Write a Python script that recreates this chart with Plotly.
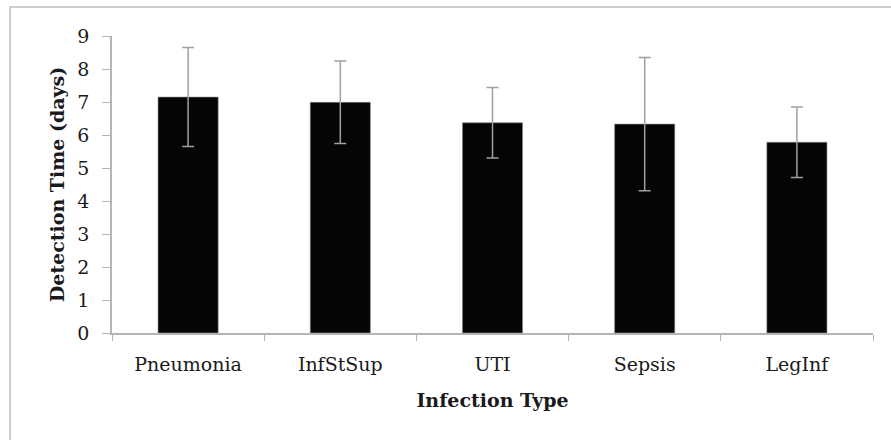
import plotly.graph_objects as go

categories = ["Pneumonia", "InfStSup", "UTI", "Sepsis", "LegInf"]
detection_days = [7.15, 6.99, 6.37, 6.33, 5.78]
error_days = [1.5, 1.25, 1.07, 2.02, 1.07]
y_ticks = [0, 1, 2, 3, 4, 5, 6, 7, 8, 9]

FONT = "DejaVu Serif"
AXIS_GRAY = "#b4b4b4"
TEXT = "#1a1a1a"

fig = go.Figure()
fig.add_trace(go.Bar(
    x=categories,
    y=detection_days,
    marker=dict(color="#050505", line=dict(color="#8a8a8a", width=0.6)),
    error_y=dict(type="data", array=error_days, visible=True,
                 color="#a0a0a0", thickness=1.5, width=6),
    showlegend=False,
))

fig.update_layout(
    width=891, height=440,
    margin=dict(l=112, r=18, t=36, b=107),
    paper_bgcolor="white", plot_bgcolor="white",
    bargap=0.605,
    font=dict(family=FONT, size=19, color=TEXT),
    xaxis=dict(
        showline=True, linecolor=AXIS_GRAY, linewidth=1.5,
        ticks="outside", tickson="boundaries", ticklen=6, tickcolor=AXIS_GRAY, tickwidth=1.2,
        ticklabelstandoff=13,
        title=dict(text="<b>Infection Type</b>", font=dict(family=FONT, size=19, color=TEXT), standoff=20),
        showgrid=False, automargin=False,
    ),
    yaxis=dict(
        range=[0, 9], tickvals=y_ticks,
        showline=True, linecolor=AXIS_GRAY, linewidth=1.5,
        ticks="outside", ticklen=8, tickcolor=AXIS_GRAY, tickwidth=1.2,
        ticklabelstandoff=9,
        title=dict(text="<b>Detection Time (days)</b>", font=dict(family=FONT, size=19, color=TEXT), standoff=8),
        showgrid=False, zeroline=False, automargin=False,
    ),
    shapes=[dict(type="rect", xref="paper", yref="paper",
                 x0=-0.134, x1=1.06, y0=-0.6, y1=1.0976,
                 line=dict(color="#bdbdbd", width=1.5), layer="below")],
)

fig.write_html("out.html", config={"displayModeBar": False},
               post_script="document.body.style.margin='0';")
